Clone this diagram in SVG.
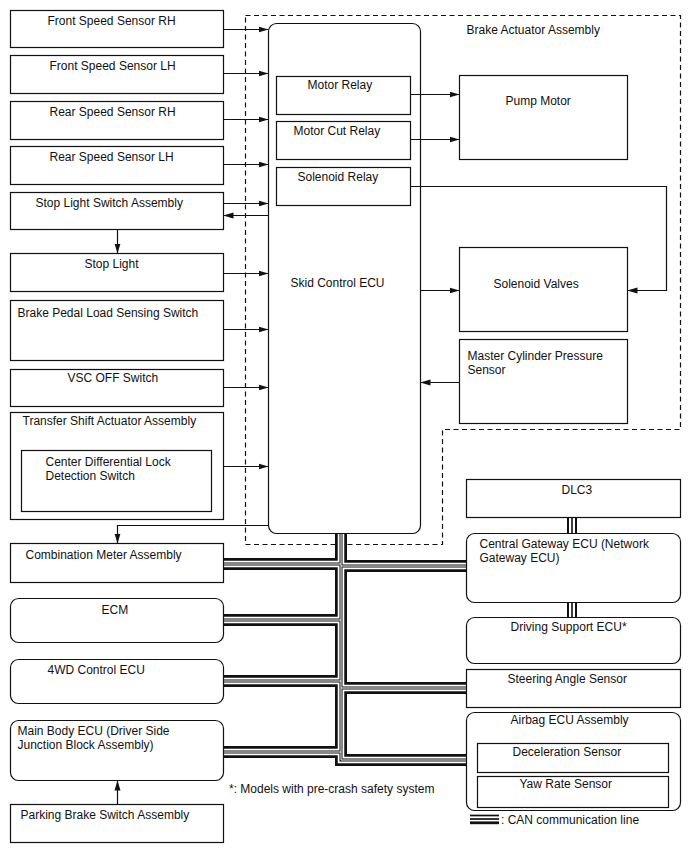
<svg xmlns="http://www.w3.org/2000/svg" width="688" height="852" viewBox="0 0 688 852">
<defs>
<marker id="ah" markerWidth="10" markerHeight="7" refX="10" refY="3.5" orient="auto" markerUnits="userSpaceOnUse">
<path d="M0,0.5 L10,3.5 L0,6.5 z" fill="#111"/>
</marker>
<path id="bus" d="M341,533 V760 H466 M223,564 H341 M223,620 H341 M223,681 H341 M223,752 H341 M341,566 H466 M341,688 H466"/>
<path id="link" d="M572,517 V533 M572,602 V617"/>
</defs>
<style>
.box{fill:#fff;stroke:#111;stroke-width:1.2}
.t{font-family:"Liberation Sans",Arial,sans-serif;font-size:12px;fill:#111}
.a{fill:none;stroke:#111;stroke-width:1.2;marker-end:url(#ah)}
.dash{fill:none;stroke:#111;stroke-width:1.2;stroke-dasharray:5,3.5}
</style>
<rect width="688" height="852" fill="#fff"/>

<g transform="translate(0.5 0.5)">
<g id="brake-actuator-assembly">
<path class="dash" d="M245,15 H680 V429 H442 V544 H245 Z"/>
<text class="t" x="466" y="33">Brake Actuator Assembly</text>
</g>
</g>

<g id="can-bus">
<use href="#bus" fill="none" stroke="#111" stroke-width="12"/>
<use href="#bus" fill="none" stroke="#fff" stroke-width="6.5"/>
<use href="#bus" fill="none" stroke="#111" stroke-width="3"/>
<use href="#bus" fill="none" stroke="#fff" stroke-width="1"/>
<use href="#link" fill="none" stroke="#111" stroke-width="10"/>
<use href="#link" fill="none" stroke="#fff" stroke-width="6"/>
<use href="#link" fill="none" stroke="#111" stroke-width="1.6"/>
</g>

<g transform="translate(0.5 0.5)">
<g id="skid-control-ecu">
<rect class="box" x="268" y="23" width="152" height="510" rx="8"/>
<text class="t" x="290" y="286">Skid Control ECU</text>
</g>
<g id="motor-relay"><rect class="box" x="276" y="76" width="134" height="38"/><text class="t" x="307" y="88">Motor Relay</text></g>
<g id="motor-cut-relay"><rect class="box" x="276" y="121" width="134" height="38"/><text class="t" x="293" y="134">Motor Cut Relay</text></g>
<g id="solenoid-relay"><rect class="box" x="276" y="167" width="134" height="38"/><text class="t" x="297" y="180">Solenoid Relay</text></g>
<g id="pump-motor"><rect class="box" x="459" y="75" width="168" height="84"/><text class="t" x="505" y="104">Pump Motor</text></g>
<g id="solenoid-valves"><rect class="box" x="459" y="247" width="168" height="84"/><text class="t" x="493" y="287">Solenoid Valves</text></g>
<g id="master-cylinder-pressure-sensor"><rect class="box" x="459" y="339" width="168" height="84"/><text class="t" x="467" y="359">Master Cylinder Pressure</text><text class="t" x="467" y="373">Sensor</text></g>

<g id="front-speed-sensor-rh"><rect class="box" x="10" y="10" width="213" height="37"/><text class="t" x="47" y="24">Front Speed Sensor RH</text></g>
<g id="front-speed-sensor-lh"><rect class="box" x="10" y="55" width="213" height="38"/><text class="t" x="49" y="69">Front Speed Sensor LH</text></g>
<g id="rear-speed-sensor-rh"><rect class="box" x="10" y="101" width="213" height="38"/><text class="t" x="49" y="115">Rear Speed Sensor RH</text></g>
<g id="rear-speed-sensor-lh"><rect class="box" x="10" y="146" width="213" height="38"/><text class="t" x="49" y="160">Rear Speed Sensor LH</text></g>
<g id="stop-light-switch-assembly"><rect class="box" x="10" y="192" width="213" height="37"/><text class="t" x="35" y="206">Stop Light Switch Assembly</text></g>
<g id="stop-light"><rect class="box" x="10" y="253" width="213" height="38"/><text class="t" x="84" y="267">Stop Light</text></g>
<g id="brake-pedal-load-sensing-switch"><rect class="box" x="10" y="300" width="213" height="60"/><text class="t" x="17" y="316">Brake Pedal Load Sensing Switch</text></g>
<g id="vsc-off-switch"><rect class="box" x="10" y="369" width="213" height="37"/><text class="t" x="67" y="381">VSC OFF Switch</text></g>
<g id="transfer-shift-actuator-assembly"><rect class="box" x="10" y="412" width="213" height="107"/><text class="t" x="22" y="424">Transfer Shift Actuator Assembly</text></g>
<g id="center-differential-lock-detection-switch"><rect class="box" x="21" y="450" width="190" height="61"/><text class="t" x="45" y="465">Center Differential Lock</text><text class="t" x="45" y="479">Detection Switch</text></g>
<g id="combination-meter-assembly"><rect class="box" x="10" y="543" width="213" height="39"/><text class="t" x="25" y="558">Combination Meter Assembly</text></g>
<g id="ecm"><rect class="box" x="10" y="598" width="213" height="44" rx="8"/><text class="t" x="101" y="613">ECM</text></g>
<g id="4wd-control-ecu"><rect class="box" x="10" y="659" width="213" height="44" rx="8"/><text class="t" x="47" y="673">4WD Control ECU</text></g>
<g id="main-body-ecu"><rect class="box" x="10" y="720" width="213" height="60" rx="8"/><text class="t" x="17" y="734">Main Body ECU (Driver Side</text><text class="t" x="17" y="748">Junction Block Assembly)</text></g>
<g id="parking-brake-switch-assembly"><rect class="box" x="10" y="804" width="213" height="38"/><text class="t" x="20" y="818">Parking Brake Switch Assembly</text></g>

<g id="dlc3"><rect class="box" x="466" y="479" width="214" height="38"/><text class="t" x="561" y="493">DLC3</text></g>
<g id="central-gateway-ecu"><rect class="box" x="466" y="533" width="214" height="69" rx="8"/><text class="t" x="479" y="547">Central Gateway ECU (Network</text><text class="t" x="479" y="561">Gateway ECU)</text></g>
<g id="driving-support-ecu"><rect class="box" x="466" y="617" width="214" height="46" rx="8"/><text class="t" x="510" y="630">Driving Support ECU*</text></g>
<g id="steering-angle-sensor"><rect class="box" x="466" y="669" width="214" height="38"/><text class="t" x="507" y="682">Steering Angle Sensor</text></g>
<g id="airbag-ecu-assembly"><rect class="box" x="466" y="712" width="214" height="98" rx="8"/><text class="t" x="510" y="723">Airbag ECU Assembly</text></g>
<g id="deceleration-sensor"><rect class="box" x="477" y="743" width="191" height="29"/><text class="t" x="512" y="755">Deceleration Sensor</text></g>
<g id="yaw-rate-sensor"><rect class="box" x="477" y="776" width="191" height="31"/><text class="t" x="519" y="787">Yaw Rate Sensor</text></g>

<g id="connectors">
<path class="a" d="M223,29 H268"/>
<path class="a" d="M223,73 H268"/>
<path class="a" d="M223,119 H268"/>
<path class="a" d="M223,164 H268"/>
<path class="a" d="M223,203 H268"/>
<path class="a" d="M268,215 H223"/>
<path class="a" d="M117,229 V253"/>
<path class="a" d="M223,273 H268"/>
<path class="a" d="M223,329 H268"/>
<path class="a" d="M223,387 H268"/>
<path class="a" d="M223,466 H268"/>
<path class="a" d="M268,525 H117 V543"/>
<path class="a" d="M117,804 V780"/>
<path class="a" d="M410,94 H459"/>
<path class="a" d="M410,139 H459"/>
<path class="a" d="M410,186 H666 V290 H627"/>
<path class="a" d="M420,290 H459"/>
<path class="a" d="M459,382 H420"/>
</g>
</g>

<g id="notes">
<text class="t" x="229" y="793">*: Models with pre-crash safety system</text>
<line x1="470" y1="815.5" x2="499" y2="815.5" stroke="#111" stroke-width="1.7"/>
<line x1="470" y1="819" x2="499" y2="819" stroke="#111" stroke-width="1.7"/>
<line x1="470" y1="822.8" x2="499" y2="822.8" stroke="#111" stroke-width="2.8"/>
<text class="t" x="501" y="824">: CAN communication line</text>
</g>
</svg>
